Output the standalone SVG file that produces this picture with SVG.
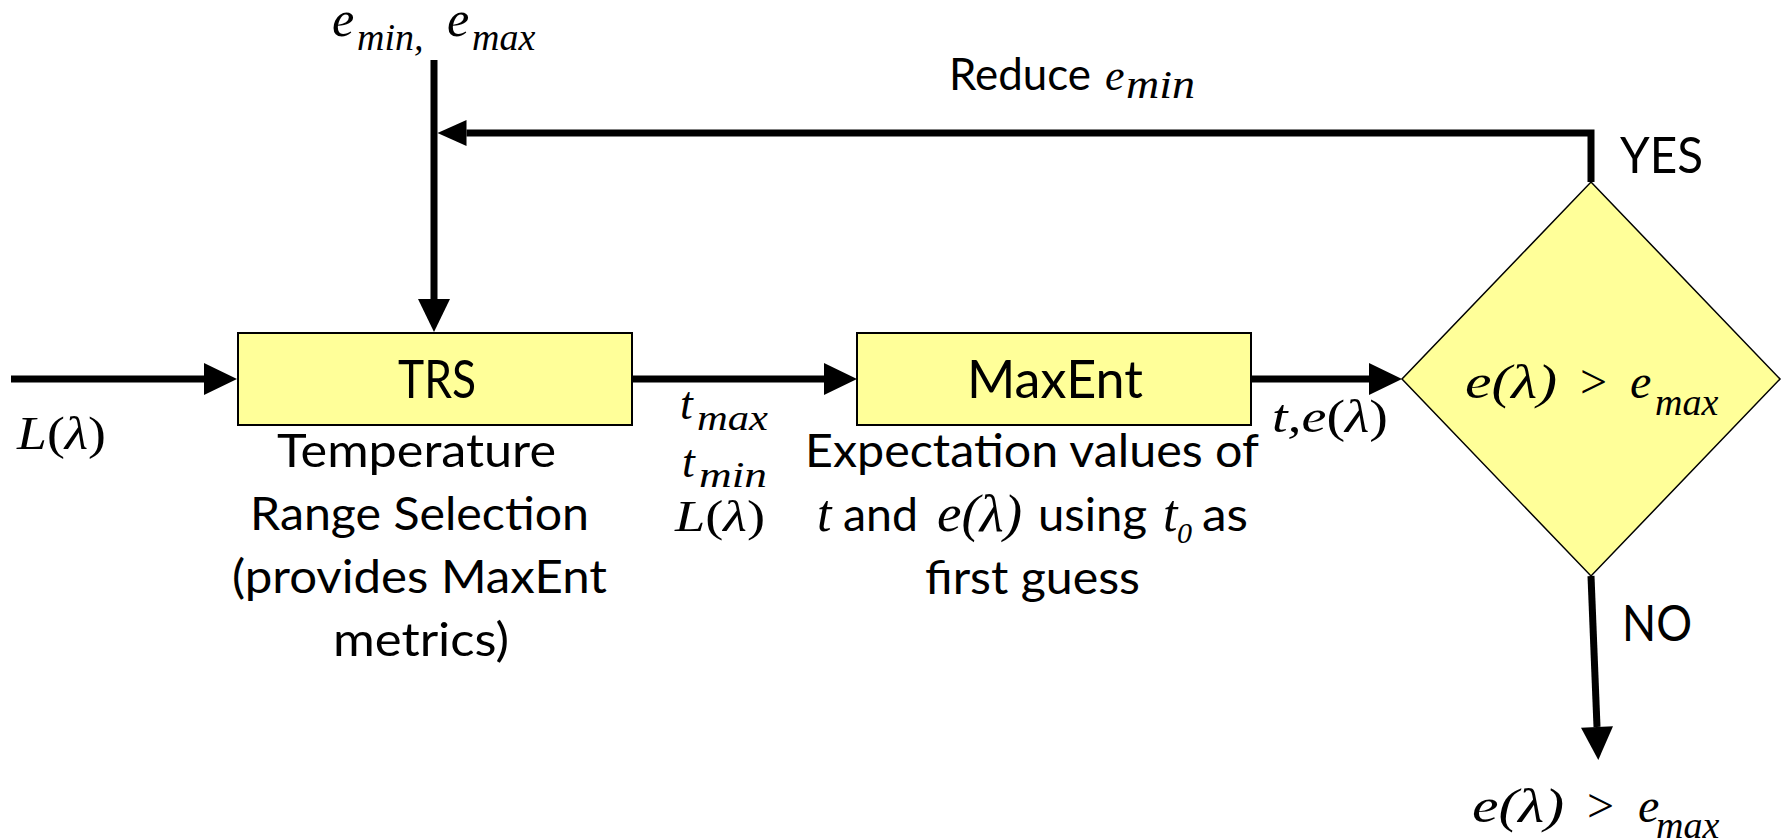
<svg xmlns="http://www.w3.org/2000/svg" width="1785" height="840" viewBox="0 0 1785 840">
<style>
.box{fill:#FFFF99;stroke:#000;stroke-width:2}
.dia{fill:#FFFF99;stroke:#000;stroke-width:1.5}
.conn{fill:none;stroke:#000;stroke-width:7}
.sans{font-family:Lato,'Open Sans','Liberation Sans',sans-serif;fill:#000}
.math{font-family:'Liberation Serif','Times New Roman',serif;font-style:italic;fill:#000}
.up{font-style:normal}
</style>
<defs>
<marker id="ah" markerUnits="userSpaceOnUse" orient="auto" overflow="visible" markerWidth="33" markerHeight="32" refX="0" refY="0"><path d="M0,-16 L33,0 L0,16 z" fill="#000"/></marker>
<marker id="ahs" markerUnits="userSpaceOnUse" orient="auto" overflow="visible" markerWidth="29" markerHeight="26" refX="0" refY="0"><path d="M0,-13 L29,0 L0,13 z" fill="#000"/></marker>
</defs>
<rect width="1785" height="840" fill="#fff"/>
<g id="connectors">
<path class="conn" d="M11,379 H204" marker-end="url(#ah)"/>
<path class="conn" d="M632,379 H824" marker-end="url(#ah)"/>
<path class="conn" d="M1251,379 H1369" marker-end="url(#ah)"/>
<path class="conn" d="M434,60 V299" marker-end="url(#ah)"/>
<path class="conn" d="M1591,182 V133 H466.5" marker-end="url(#ahs)"/>
<path class="conn" d="M1591,576 L1597,727" marker-end="url(#ah)"/>
</g>
<g id="label-inputs">
<text class="math" font-size="50" x="332" y="36">e</text>
<text class="math" font-size="38" x="357" y="50">min,</text>
<text class="math" font-size="50" x="447" y="36">e</text>
<text class="math" font-size="38" x="472" y="50">max</text>
</g>
<g id="label-reduce">
<text class="sans" font-size="44" x="949" y="90" textLength="142" lengthAdjust="spacingAndGlyphs">Reduce</text>
<text class="math" font-size="44" x="1105" y="90">e</text>
<text class="math" font-size="40" x="1126" y="98" textLength="69" lengthAdjust="spacingAndGlyphs">min</text>
</g>
<g id="label-yes"><text class="sans" font-size="50" x="1620" y="173" textLength="83" lengthAdjust="spacingAndGlyphs">YES</text></g>
<g id="label-no"><text class="sans" font-size="50" x="1622" y="641" textLength="70" lengthAdjust="spacingAndGlyphs">NO</text></g>
<g id="label-L">
<text class="math" font-size="46" x="17" y="449" textLength="89" lengthAdjust="spacingAndGlyphs">L<tspan class="up">(</tspan>λ<tspan class="up">)</tspan></text>
</g>
<g id="node-trs">
<rect class="box" x="238" y="333" width="394" height="92"/>
<text class="sans" font-size="52" x="437" y="398" text-anchor="middle" textLength="78" lengthAdjust="spacingAndGlyphs">TRS</text>
<text class="sans" font-size="46" x="277" y="467" textLength="279" lengthAdjust="spacingAndGlyphs">Temperature</text>
<text class="sans" font-size="46" x="250" y="530" textLength="339" lengthAdjust="spacingAndGlyphs">Range Selection</text>
<text class="sans" font-size="46" x="232" y="593" textLength="375" lengthAdjust="spacingAndGlyphs">(provides MaxEnt</text>
<text class="sans" font-size="46" x="333" y="656" textLength="176" lengthAdjust="spacingAndGlyphs">metrics)</text>
</g>
<g id="label-trs-out">
<text class="math" font-size="46" x="680" y="419">t</text>
<text class="math" font-size="36" x="697" y="430" textLength="71" lengthAdjust="spacingAndGlyphs">max</text>
<text class="math" font-size="46" x="682" y="477">t</text>
<text class="math" font-size="36" x="699" y="487" textLength="68" lengthAdjust="spacingAndGlyphs">min</text>
<text class="math" font-size="44" x="675" y="531" textLength="90" lengthAdjust="spacingAndGlyphs">L<tspan class="up">(</tspan>λ<tspan class="up">)</tspan></text>
</g>
<g id="node-maxent">
<rect class="box" x="857" y="333" width="394" height="92"/>
<text class="sans" font-size="52" x="1055" y="398" text-anchor="middle" textLength="176" lengthAdjust="spacingAndGlyphs">MaxEnt</text>
<text class="sans" font-size="46" x="805" y="467" textLength="454" lengthAdjust="spacingAndGlyphs">Expectation values of</text>
<text class="math" font-size="52" x="817" y="531">t</text>
<text class="sans" font-size="46" x="843" y="531" textLength="75" lengthAdjust="spacingAndGlyphs">and</text>
<text class="math" font-size="52" x="937" y="531" textLength="85" lengthAdjust="spacingAndGlyphs">e(λ)</text>
<text class="sans" font-size="46" x="1038" y="531" textLength="109" lengthAdjust="spacingAndGlyphs">using</text>
<text class="math" font-size="52" x="1163" y="531">t</text>
<text class="math" font-size="30" x="1177" y="543">0</text>
<text class="sans" font-size="46" x="1202" y="531" textLength="46" lengthAdjust="spacingAndGlyphs">as</text>
<text class="sans" font-size="46" x="925" y="594" textLength="215" lengthAdjust="spacingAndGlyphs">first guess</text>
</g>
<g id="label-maxent-out">
<text class="math" font-size="46" x="1272" y="432" textLength="116" lengthAdjust="spacingAndGlyphs">t,e<tspan class="up">(</tspan>λ<tspan class="up">)</tspan></text>
</g>
<g id="node-decision">
<polygon class="dia" points="1591,182 1780,379 1591,576 1402,379"/>
<text class="math" font-size="48" x="1465" y="398" textLength="92" lengthAdjust="spacingAndGlyphs">e(λ)</text>
<text class="math up" font-size="48" x="1580" y="398">&gt;</text>
<text class="math" font-size="48" x="1630" y="398">e</text>
<text class="math" font-size="38" x="1655" y="415">max</text>
</g>
<g id="label-output">
<text class="math" font-size="48" x="1472" y="822" textLength="92" lengthAdjust="spacingAndGlyphs">e(λ)</text>
<text class="math up" font-size="48" x="1587" y="822">&gt;</text>
<text class="math" font-size="48" x="1638" y="822">e</text>
<text class="math" font-size="38" x="1656" y="838">max</text>
</g>
</svg>
